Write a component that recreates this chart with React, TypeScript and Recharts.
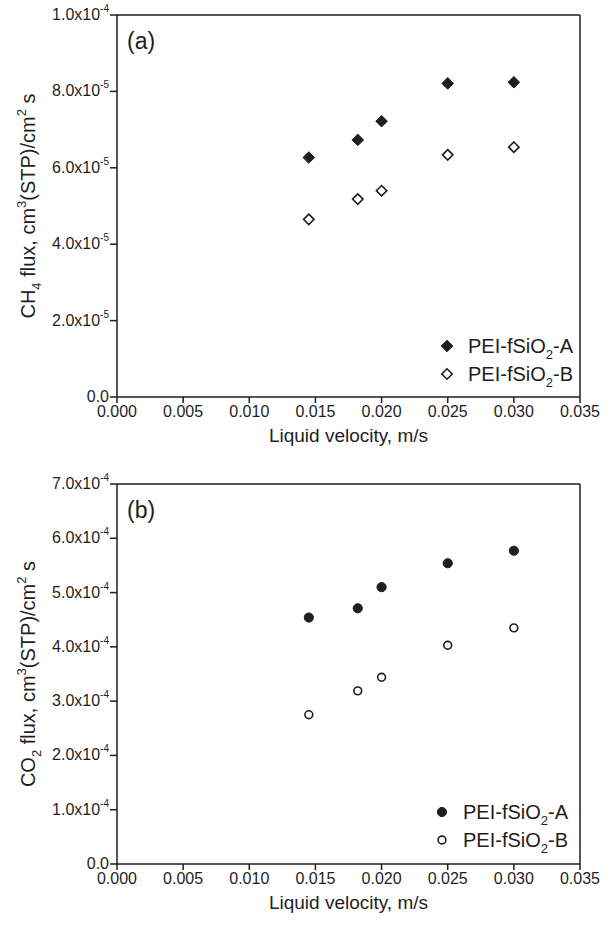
import React from 'react';
import { ScatterChart, Scatter, XAxis, YAxis, ReferenceLine, Label } from 'recharts';

// liquid velocity, m/s
const velocity = [0.0145, 0.0182, 0.02, 0.025, 0.03];

// panel (a): CH4 flux, cm3(STP)/cm2 s
const ch4FluxA = [6.27e-5, 6.73e-5, 7.22e-5, 8.21e-5, 8.24e-5];
const ch4FluxB = [4.65e-5, 5.18e-5, 5.4e-5, 6.34e-5, 6.54e-5];

// panel (b): CO2 flux, cm3(STP)/cm2 s
const co2FluxA = [4.54e-4, 4.71e-4, 5.1e-4, 5.54e-4, 5.77e-4];
const co2FluxB = [2.75e-4, 3.19e-4, 3.44e-4, 4.03e-4, 4.35e-4];

const xTicks = [0, 0.005, 0.01, 0.015, 0.02, 0.025, 0.03, 0.035];
const ch4Ticks = [0, 2e-5, 4e-5, 6e-5, 8e-5, 1e-4];
const co2Ticks = [0, 1e-4, 2e-4, 3e-4, 4e-4, 5e-4, 6e-4, 7e-4];

const seriesNames = ['PEI-fSiO2-A', 'PEI-fSiO2-B'];

const INK = '#1e1e1e';
const FONT = '"Liberation Sans", Arial, sans-serif';

const toPoints = (ys: number[]) => velocity.map((x, i) => ({ x, y: ys[i] }));

const Marker = ({ cx, cy, kind, filled }: { cx: number; cy: number; kind: string; filled: boolean }) => {
  if (kind === 'diamond') {
    const s = filled ? 5.8 : 5.2;
    return (
      <polygon
        points={`${cx},${cy - s} ${cx + s},${cy} ${cx},${cy + s} ${cx - s},${cy}`}
        fill={filled ? INK : '#fff'}
        stroke={INK}
        strokeWidth={filled ? 1 : 1.6}
      />
    );
  }
  return (
    <circle cx={cx} cy={cy} r={filled ? 4.6 : 3.9} fill={filled ? INK : '#fff'} stroke={INK} strokeWidth={filled ? 1 : 1.6} />
  );
};

const YTick = ({ x, y, payload }: any) => {
  const v = payload.value;
  if (v === 0) {
    return (
      <text x={x} y={y} dy={5} textAnchor="end" fontSize={16} fill={INK}>
        0.0
      </text>
    );
  }
  const e = Math.floor(Math.log10(v) + 1e-9);
  const m = v / Math.pow(10, e);
  return (
    <text x={x} y={y} dy={5} textAnchor="end" fontSize={16} fill={INK}>
      {m.toFixed(1)}x10
      <tspan dy={-8} fontSize={10}>{e}</tspan>
    </text>
  );
};

const SubName = ({ name }: { name: string }) => {
  const [pre, post] = name.split('O2');
  return (
    <span>
      {pre}O<sub style={{ fontSize: 13, verticalAlign: -6, lineHeight: 0 }}>2</sub>
      {post}
    </span>
  );
};

interface PanelProps {
  top: number;
  height: number;
  marginTop: number;
  marginBottom: number;
  yMax: number;
  yTicks: number[];
  seriesA: number[];
  seriesB: number[];
  kind: string;
  gas: string;
  tag: string;
  legendTop: number;
  legendLeft: number;
}

function Panel({ top, height, marginTop, marginBottom, yMax, yTicks, seriesA, seriesB, kind, gas, tag, legendTop, legendLeft }: PanelProps) {
  const yTitle = (props: any) => {
    const vb = props.viewBox;
    const cx = 28;
    const cy = vb.y + vb.height / 2;
    return (
      <text transform={`rotate(-90, ${cx}, ${cy})`} x={cx} y={cy} dy={7} textAnchor="middle" fontSize={20} fill={INK}>
        {gas.slice(0, -1)}
        <tspan dy={6} fontSize={13}>{gas.slice(-1)}</tspan>
        <tspan dy={-6}> flux, cm</tspan>
        <tspan dy={-9} fontSize={13}>3</tspan>
        <tspan dy={9}>(STP)/cm</tspan>
        <tspan dy={-9} fontSize={13}>2</tspan>
        <tspan dy={9}> s</tspan>
      </text>
    );
  };

  return (
    <div style={{ position: 'absolute', left: 0, top, width: 609, height }}>
      <ScatterChart width={609} height={height} margin={{ top: marginTop, right: 29, bottom: marginBottom, left: 0 }}>
        <XAxis
          type="number"
          dataKey="x"
          domain={[0, 0.035]}
          ticks={xTicks}
          interval={0}
          tickFormatter={(v: number) => v.toFixed(3)}
          tick={{ fill: INK, fontSize: 16 }}
          tickSize={6}
          tickMargin={3}
          height={50}
          axisLine={{ stroke: INK, strokeWidth: 1.5 }}
          tickLine={{ stroke: INK, strokeWidth: 1.5 }}
        >
          <Label value="Liquid velocity, m/s" position="insideBottom" offset={5} fill={INK} fontSize={19} />
        </XAxis>
        <YAxis
          type="number"
          dataKey="y"
          domain={[0, yMax]}
          ticks={yTicks}
          interval={0}
          tick={<YTick />}
          tickSize={7}
          tickMargin={1}
          width={117}
          axisLine={{ stroke: INK, strokeWidth: 1.5 }}
          tickLine={{ stroke: INK, strokeWidth: 1.5 }}
        >
          <Label content={yTitle} />
        </YAxis>
        <ReferenceLine y={yMax} stroke={INK} strokeWidth={1.5} />
        <ReferenceLine x={0.035} stroke={INK} strokeWidth={1.5} />
        <Scatter
          name={seriesNames[0]}
          data={toPoints(seriesA)}
          isAnimationActive={false}
          shape={(p: any) => <Marker cx={p.cx} cy={p.cy} kind={kind} filled />}
        />
        <Scatter
          name={seriesNames[1]}
          data={toPoints(seriesB)}
          isAnimationActive={false}
          shape={(p: any) => <Marker cx={p.cx} cy={p.cy} kind={kind} filled={false} />}
        />
      </ScatterChart>
      <div style={{ position: 'absolute', left: 127, top: marginTop + 13, fontSize: 23, color: INK }}>{tag}</div>
      <div style={{ position: 'absolute', left: legendLeft, top: legendTop, fontSize: 20, color: INK, lineHeight: '28px' }}>
        {seriesNames.map((n, i) => (
          <div key={n} style={{ display: 'flex', alignItems: 'center' }}>
            <svg width={29} height={14}>
              <Marker cx={8} cy={7} kind={kind} filled={i === 0} />
            </svg>
            <SubName name={n} />
          </div>
        ))}
      </div>
    </div>
  );
}

export default function App() {
  return (
    <div style={{ position: 'absolute', left: 0, top: 0, width: 609, height: 925, background: '#fff', fontFamily: FONT }}>
      <Panel
        top={0}
        height={460}
        marginTop={15}
        marginBottom={13}
        yMax={1e-4}
        yTicks={ch4Ticks}
        seriesA={ch4FluxA}
        seriesB={ch4FluxB}
        kind="diamond"
        gas="CH4"
        tag="(a)"
        legendTop={332}
        legendLeft={439}
      />
      <Panel
        top={460}
        height={465}
        marginTop={24}
        marginBottom={11}
        yMax={7e-4}
        yTicks={co2Ticks}
        seriesA={co2FluxA}
        seriesB={co2FluxB}
        kind="circle"
        gas="CO2"
        tag="(b)"
        legendTop={338}
        legendLeft={434}
      />
    </div>
  );
}
